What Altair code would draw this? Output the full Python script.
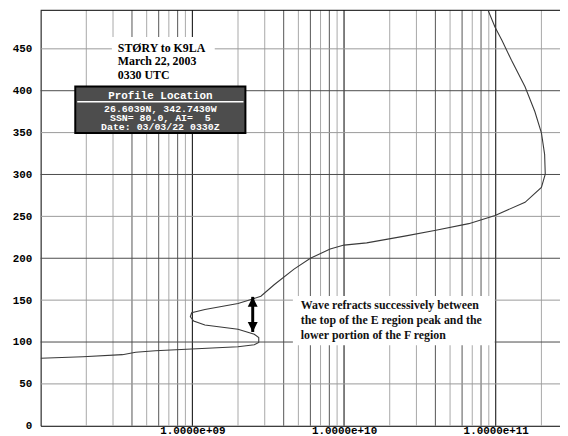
import altair as alt
import pandas as pd

# ---- electron density profile (height km vs density) ----
density = [1.0e8, 1.9e8, 3.46e8, 4.23e8, 5.7e8, 9.9e8, 2.0e9, 2.56e9, 2.74e9,
           2.74e9, 2.56e9, 2.0e9, 1.21e9, 1.02e9, 9.7e8, 9.9e8, 1.21e9, 2.0e9,
           2.32e9, 2.83e9, 3.46e9, 4.68e9, 6.0e9, 8.1e9, 1.0e10, 1.41e10,
           2.56e10, 4.03e10, 6.64e10, 9.9e10, 1.56e11, 2.0e11, 2.12e11, 2.1e11,
           2.0e11, 1.81e11, 1.56e11, 1.27e11, 1.1e11, 9.9e10, 8.75e10]
height = [80.6, 82.5, 84.9, 87.7, 89.6, 91.6, 94.3, 96.7, 99.5,
          105.4, 109.3, 115.2, 120.3, 125.0, 130.2, 134.9, 138.9, 145.9,
          149.5, 154.6, 168.4, 187.0, 200.0, 211.0, 215.7, 218.4,
          226.7, 233.4, 241.3, 251.1, 266.8, 284.6, 300.4, 324.0,
          349.6, 375.2, 404.8, 436.3, 459.9, 475.7, 499.3]

x_tick_values = [1e9, 1e10, 1e11]
x_tick_labels = ["1.0000e+09", "1.0000e+10", "1.0000e+11"]
y_tick_values = [0, 50, 100, 150, 200, 250, 300, 350, 400, 450]

title_lines = ["STØRY to K9LA", "March 22, 2003", "0330 UTC"]
box_header = "Profile Location"
box_lines = ["26.6039N, 342.7430W", "SSN= 80.0, AI=\u00a0\u00a05", "Date: 03/03/22 0330Z"]
note_lines = ["Wave refracts successively between",
              "the top of the E region peak and the",
              "lower portion of the F region"]

# arrow (annotation) : density position and the two heights of its tips
arrow_x = [2.5e9]
arrow_top = [153.9]
arrow_bottom = [112.0]

# ---- layout / style ----
W, H = 525, 420
MONO = "Liberation Mono"
SERIF = "Liberation Serif"
xscale = alt.Scale(type="log", domain=[1e8, 2.652e11], nice=False)
yscale = alt.Scale(domain=[0, 496], nice=False, zero=False)

label_expr = " : ".join(f"datum.value < {v * 3:.6g} ? '{l}'"
                        for v, l in zip(x_tick_values, x_tick_labels)) + " : ''"

xaxis = alt.Axis(values=x_tick_values, labelExpr=label_expr, grid=False,
                 ticks=False, domain=True, domainColor="black", domainWidth=1,
                 labelFont=MONO, labelFontSize=11, labelFontWeight="bold",
                 labelColor="black", labelPadding=-1, labelBaseline="top",
                 title=None, labelFlush=False, labelOverlap=False)
yaxis = alt.Axis(values=y_tick_values, grid=False, ticks=False, domain=True,
                 domainColor="black", domainWidth=1, labelFont=MONO,
                 labelFontSize=11, labelFontWeight="bold", labelColor="black",
                 labelPadding=9, title=None)

profile = pd.DataFrame({"d": density, "h": height, "i": range(len(density))})

# gridline positions
vg = []
for dec in [1e8, 1e9, 1e10]:
    for m in range(2, 10):
        vg.append({"v": m * dec, "c": "#555555" if m in (4, 6, 8) else "#a8a8a8"})
vg.append({"v": 2e11, "c": "#a8a8a8"})
for v in x_tick_values:
    vg.append({"v": v, "c": "#000000"})
vgrid = pd.DataFrame(vg)
hgrid = pd.DataFrame({"h": y_tick_values[1:],
                      "c": ["#9a9a9a" if v % 100 else "#4a4a4a" for v in y_tick_values[1:]]})

one = alt.Data(values=[{"a": 1}])

vlines = alt.Chart(vgrid).mark_rule(strokeWidth=1).encode(
    x=alt.X("v:Q", scale=xscale, axis=xaxis),
    color=alt.Color("c:N", scale=None),
)

hlines = alt.Chart(hgrid).mark_rule(strokeWidth=1).encode(
    y=alt.Y("h:Q", scale=yscale, axis=yaxis),
    color=alt.Color("c:N", scale=None),
)

top_border = alt.Chart(one).mark_rule(color="black", strokeWidth=1).encode(
    x=alt.value(0), x2=alt.value(W), y=alt.value(0))

title_bg = alt.Chart(one).mark_rect(color="white").encode(
    x=alt.value(72), x2=alt.value(176), y=alt.value(27), y2=alt.value(77))
title_txt = alt.Chart(one).mark_text(
    text=title_lines, font=SERIF, fontSize=12, fontWeight="bold", align="left",
    baseline="alphabetic", lineHeight=13.5, color="black").encode(
    x=alt.value(78), y=alt.value(42))

box = alt.Chart(one).mark_rect(color="#4d4d4d", stroke="black", strokeWidth=2).encode(
    x=alt.value(35), x2=alt.value(207), y=alt.value(77), y2=alt.value(124))
box_sep = alt.Chart(one).mark_rule(color="white", strokeWidth=1.5).encode(
    x=alt.value(37), x2=alt.value(205), y=alt.value(92.5))


def box_text(t, y, size):
    return alt.Chart(one).mark_text(
        text=t, font=MONO, fontSize=size, fontWeight="bold", color="white",
        align="center", baseline="alphabetic").encode(x=alt.value(121), y=alt.value(y))


box_texts = [box_text(box_header, 89.2, 11)] + [
    box_text(t, y, 10) for t, y in zip(box_lines, [103.3, 112.3, 121.3])]

note_bg = alt.Chart(one).mark_rect(color="white").encode(
    x=alt.value(255), x2=alt.value(459), y=alt.value(288.7), y2=alt.value(338.7))
note_txt = alt.Chart(one).mark_text(
    text=note_lines, font=SERIF, fontSize=12, fontWeight="bold", align="left",
    baseline="alphabetic", lineHeight=15, color="#111111").encode(
    x=alt.value(263), y=alt.value(302))

curve = alt.Chart(profile).mark_line(color="#3a3a3a", strokeWidth=1.1, clip=True).encode(
    x=alt.X("d:Q", scale=xscale, axis=xaxis),
    y=alt.Y("h:Q", scale=yscale, axis=yaxis),
    order="i:Q",
)

arrow_df = pd.DataFrame({"x": arrow_x, "top": arrow_top, "bot": arrow_bottom})
shaft = alt.Chart(arrow_df).mark_rule(color="black", strokeWidth=3).encode(
    x=alt.X("x:Q", scale=xscale, axis=xaxis),
    y=alt.Y("top:Q", scale=yscale, axis=yaxis), y2="bot:Q")
head_up = alt.Chart(arrow_df).mark_point(
    shape="M-1,1L1,1L0,-1Z", size=100, filled=True, color="black", opacity=1,
    yOffset=5).encode(
    x=alt.X("x:Q", scale=xscale, axis=xaxis),
    y=alt.Y("top:Q", scale=yscale, axis=yaxis))
head_down = alt.Chart(arrow_df).mark_point(
    shape="M-1,-1L1,-1L0,1Z", size=100, filled=True, color="black", opacity=1,
    yOffset=-5).encode(
    x=alt.X("x:Q", scale=xscale, axis=xaxis),
    y=alt.Y("bot:Q", scale=yscale, axis=yaxis))

chart = alt.layer(
    vlines, hlines, top_border, title_bg, title_txt, box, box_sep, *box_texts,
    note_bg, note_txt, curve, shaft, head_up, head_down
).properties(
    width=W, height=H,
    autosize=alt.AutoSizeParams(type="none"),
    padding={"left": 33, "top": 0, "right": 0, "bottom": 8},
    background="white",
).configure_view(stroke=None)

chart.save("out.html", embed_options={"renderer": "svg", "actions": False})
